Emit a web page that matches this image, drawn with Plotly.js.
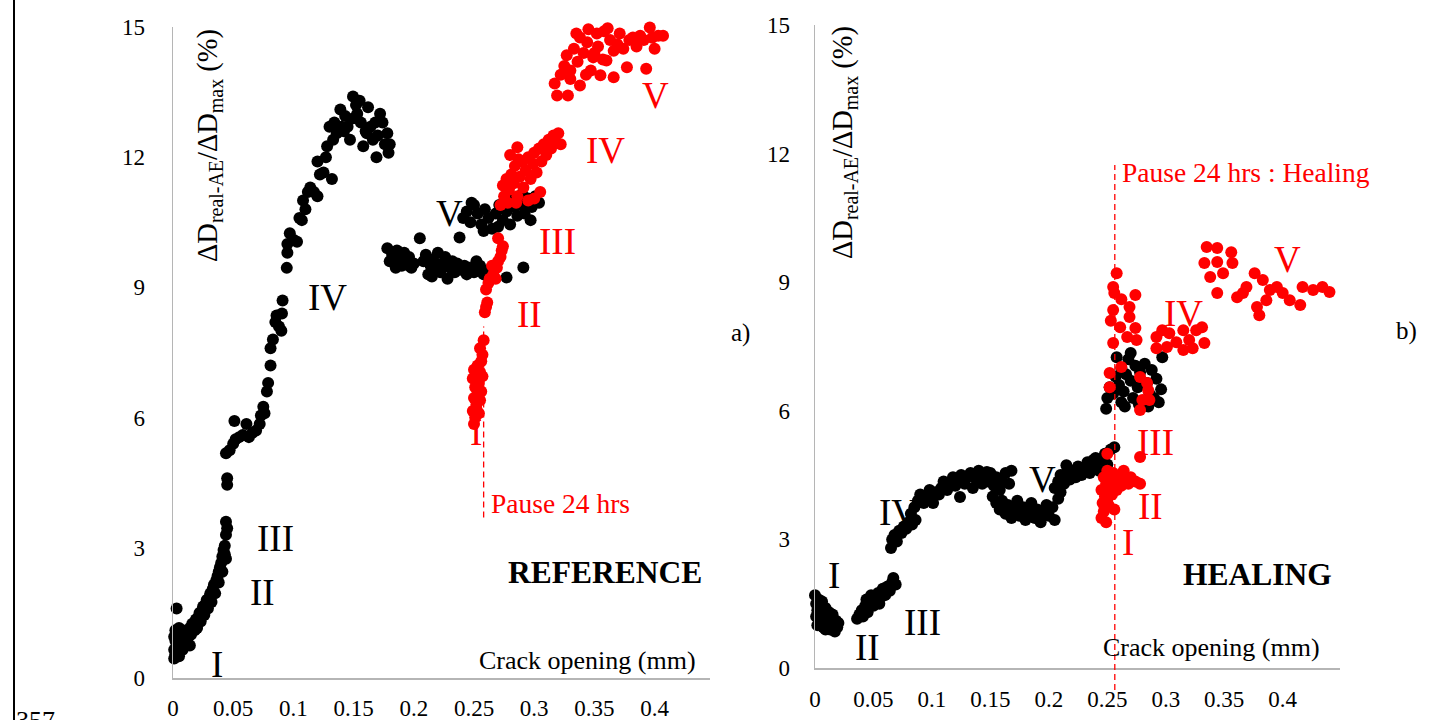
<!DOCTYPE html>
<html>
<head>
<meta charset="utf-8">
<script src="https://cdn.plot.ly/plotly-3.0.1.min.js"></script>
<style>html,body{margin:0;padding:0;background:#fff;}#chart{width:1431px;height:720px;}</style>
</head>
<body>
<div id="chart"></div>
<script>
// ---------- DATA ----------
// a) REFERENCE – first loading (black)
const refBlackX = [0.001,0.002,0.001,0.003,0.002,0.001,0.004,0.005,0.006,0.004,0.003,0.006,0.007,0.008,0.009,0.010,0.008,0.011,0.012,0.013,0.005,0.002,0.014,0.003,
0.014,0.016,0.018,0.019,0.021,0.022,0.024,0.025,0.027,0.028,0.030,0.031,0.033,0.034,0.036,0.037,0.038,0.039,0.040,0.041,0.042,0.043,0.044,0.043,0.044,0.045,0.044,
0.015,0.018,0.020,0.023,0.026,0.029,0.032,0.035,0.038,0.041,
0.045,0.045,0.044,0.047,0.050,0.052,0.051,0.055,0.058,0.061,0.063,0.066,0.069,0.072,0.073,0.075,0.076,0.078,0.079,0.081,0.081,0.083,0.085,0.086,0.088,0.090,0.0905,0.091,
0.0945,0.095,0.095,0.097,0.100,0.103,0.105,0.107,0.108,0.110,0.112,0.114,0.117,0.120,0.120,0.122,0.125,0.127,0.128,0.130,0.132,0.133,0.134,0.136,0.139,0.140,0.142,0.145,0.147,0.1495,0.152,0.153,0.155,0.156,0.158,0.160,0.161,0.162,0.164,0.166,0.169,0.170,0.172,0.174,0.176,0.178,0.179,0.180,0.168,0.150,0.143,
0.178,0.180,0.182,0.184,0.186,0.188,0.190,0.192,0.194,0.196,0.198,0.200,0.185,0.196,
0.208,0.210,0.212,0.214,0.216,0.218,0.220,0.222,0.224,0.226,0.228,0.230,0.232,0.234,0.236,0.238,0.240,0.242,0.244,0.246,0.250,0.252,0.255,0.258,0.262,0.265,0.277,0.291,0.215,0.205,
0.241,0.244,0.247,0.250,0.253,0.256,0.259,0.262,0.265,0.268,0.271,0.274,0.277,0.280,0.283,0.286,0.289,0.292,0.295,0.298,0.301,0.304,0.290,0.282,0.270,0.258,0.248,0.297];
const refBlackY = [0.45,0.55,0.65,0.75,0.85,0.95,0.60,0.50,0.70,0.90,1.05,0.95,0.80,0.65,0.90,1.00,1.10,0.85,1.05,0.95,1.15,1.10,0.75,1.60,
1.15,1.25,1.20,1.35,1.40,1.50,1.55,1.65,1.70,1.80,1.85,1.95,2.05,2.15,2.25,2.35,2.45,2.55,2.65,2.80,2.95,2.85,2.75,3.05,3.30,3.45,3.60,
1.00,1.10,1.15,1.30,1.45,1.60,1.75,1.95,2.20,2.45,
4.45,4.60,5.18,5.25,5.40,5.50,5.92,5.55,5.60,5.85,5.55,5.65,5.70,5.85,6.05,6.25,6.10,6.60,6.80,7.20,7.60,7.80,8.20,8.35,8.10,8.00,8.40,8.70,
9.45,9.80,10.00,10.25,10.10,10.05,10.60,10.55,11.00,10.80,11.20,11.30,11.20,11.10,11.90,11.60,11.65,12.00,12.25,12.70,11.50,12.40,12.80,12.55,13.10,12.70,12.60,12.70,12.40,13.40,13.20,13.00,13.30,12.80,12.25,12.60,12.55,13.15,12.70,12.40,12.00,12.50,13.00,12.80,12.30,12.55,12.10,12.30,12.80,12.90,12.95,
9.90,9.60,9.75,9.55,9.85,9.65,9.50,9.80,9.60,9.70,9.45,9.55,9.45,9.50,
9.60,9.75,9.30,9.50,9.65,9.45,9.80,9.35,9.55,9.70,9.20,9.45,9.60,9.35,9.55,10.15,9.40,9.50,9.30,9.45,9.35,9.60,9.50,9.30,9.40,9.25,9.23,9.46,9.25,10.13,
10.60,10.75,10.50,10.90,10.70,10.45,10.80,10.60,10.35,10.70,10.90,10.55,10.75,10.45,10.85,10.65,10.90,10.70,11.05,10.85,11.10,10.95,11.15,11.00,10.40,10.30,10.95,10.55];

// a) REFERENCE – after 24 h pause (red)
const refRedX = [0.250,0.251,0.249,0.252,0.250,0.253,0.251,0.254,0.252,0.255,0.253,0.256,0.257,0.255,0.258,0.254,0.256,0.249,0.257,0.252,0.255,0.250,
0.259,0.260,0.261,0.260,0.262,0.263,0.266,0.269,0.270,0.272,0.273,0.274,0.270,0.265,0.268,
0.272,0.275,0.274,0.277,0.279,0.281,0.283,0.284,0.286,0.288,0.290,0.291,0.293,0.295,0.297,0.299,0.300,0.302,0.304,0.306,0.308,0.310,0.312,0.314,0.316,0.318,0.320,0.322,0.285,0.295,0.305,0.280,0.287,0.278,0.286,0.300,
0.319,0.328,0.317,0.322,0.325,0.327,0.330,0.333,0.336,0.338,0.338,0.341,0.344,0.347,0.349,0.352,0.353,0.355,0.357,0.360,0.361,0.363,0.366,0.366,0.369,0.371,0.374,0.377,0.379,0.382,0.385,0.388,0.391,0.393,0.396,0.398,0.400,0.403,0.407,0.335,0.345,0.358,0.350,0.343,0.330];
const refRedY = [5.85,6.00,6.15,6.30,6.45,6.55,6.70,6.80,6.95,7.05,7.20,7.30,7.45,7.60,7.78,6.10,6.60,6.90,6.95,6.20,6.40,7.10,
8.43,8.55,8.65,8.95,9.10,9.20,9.30,9.45,9.60,9.70,9.85,9.95,10.13,9.50,9.20,
10.90,11.10,11.35,11.50,11.25,11.60,11.40,11.80,11.10,11.55,11.90,11.30,11.70,12.00,11.50,11.85,12.10,11.65,12.20,11.90,12.30,12.05,12.40,12.20,12.50,12.35,12.55,12.30,10.95,11.00,11.20,12.05,11.95,10.95,12.23,11.05,
13.42,13.42,13.70,13.90,14.10,14.35,14.00,14.50,14.20,14.76,13.65,14.40,14.65,14.00,14.30,14.85,14.55,13.89,14.25,14.23,14.97,14.70,13.84,14.45,14.60,14.85,14.50,14.07,14.70,14.76,14.55,14.80,14.70,14.04,14.99,14.75,14.50,14.80,14.80,14.85,14.95,14.90,14.40,13.90,13.80];

// b) HEALING – first loading (black)
const healBlackX = [0.000,0.001,0.002,0.001,0.003,0.004,0.005,0.004,0.006,0.007,0.008,0.007,0.009,0.010,0.011,0.012,0.013,0.014,0.015,0.016,0.017,0.018,0.019,0.020,0.002,0.009,
0.036,0.038,0.040,0.041,0.043,0.045,0.046,0.048,0.050,0.052,0.054,0.056,0.058,0.060,0.062,0.064,0.066,0.067,0.069,0.044,0.055,
0.065,0.066,0.068,0.070,0.072,0.074,0.076,0.078,0.080,0.083,0.086,
0.082,0.085,0.088,0.090,0.093,0.095,0.098,0.100,0.103,0.106,0.108,0.110,0.113,0.115,0.118,0.120,0.123,0.125,0.128,0.130,0.133,0.135,0.138,0.140,0.143,0.145,0.148,0.150,0.153,0.155,0.158,0.160,0.163,0.166,0.168,0.101,0.124,0.147,
0.152,0.155,0.158,0.160,0.163,0.165,0.168,0.170,0.173,0.175,0.178,0.180,0.183,0.185,0.188,0.190,0.193,0.195,0.198,0.200,0.203,0.205,0.208,0.210,
0.205,0.208,0.210,0.213,0.215,0.218,0.220,0.223,0.225,0.228,0.230,0.233,0.235,0.238,0.240,0.243,0.245,0.248,0.250,0.253,0.256,0.215,0.238,
0.249,0.250,0.252,0.255,0.257,0.260,0.262,0.264,0.266,0.268,0.270,0.272,0.274,0.276,0.278,0.280,0.282,0.284,0.286,0.288,0.290,0.292,0.294,0.296,0.265,0.258,0.262,0.270,0.277,0.285,0.297];
const healBlackY = [1.70,1.50,1.35,1.20,1.60,1.45,1.25,1.05,1.55,1.35,1.15,0.95,1.40,1.20,1.05,1.30,0.90,1.15,1.25,1.00,0.85,1.10,0.95,1.05,1.00,0.90,
1.15,1.25,1.35,1.20,1.45,1.30,1.55,1.70,1.45,1.60,1.75,1.65,1.85,1.70,1.90,1.80,2.00,2.10,1.95,1.60,1.50,
2.80,3.00,3.10,2.95,3.20,3.15,3.30,3.25,3.40,3.35,3.45,
3.60,3.75,3.90,4.05,3.85,4.00,4.15,3.95,4.10,4.05,4.20,4.35,4.15,4.30,4.45,4.25,4.40,4.50,4.30,4.45,4.55,4.20,4.40,4.60,4.30,4.50,4.35,4.55,4.25,4.45,4.15,4.35,4.55,4.30,4.60,3.85,3.99,4.57,
4.00,3.85,3.70,3.90,3.60,3.80,3.50,3.70,3.90,3.55,3.75,3.45,3.65,3.85,3.50,3.70,3.40,3.60,3.80,3.55,3.75,3.45,3.95,4.10,
4.20,4.35,4.50,4.30,4.55,4.40,4.60,4.45,4.70,4.50,4.65,4.80,4.55,4.75,4.90,4.60,4.85,5.00,4.75,5.10,5.15,4.73,4.85,
6.05,6.30,6.55,6.40,6.80,6.60,7.00,6.45,6.85,7.20,6.70,6.30,7.05,6.55,6.90,6.20,7.10,6.65,6.40,6.95,6.30,6.75,6.20,6.50,6.10,7.25,6.20,7.35,6.15,6.10,7.25];

// b) HEALING – after 24 h pause (red)
const healRedX = [0.245,0.247,0.249,0.246,0.248,0.245,0.249,0.247,0.250,0.252,0.254,0.253,0.255,0.257,0.258,0.260,0.262,0.264,0.266,0.268,0.270,0.274,0.278,0.251,0.250,0.256,0.278,0.250,
0.258,0.255,0.256,0.255,0.274,0.269,0.269,0.261,0.274,0.255,0.275,0.267,0.253,0.262,
0.252,0.252,0.262,0.278,0.284,0.280,0.278,0.286,0.285,
0.292,0.297,0.303,0.309,0.315,0.320,0.326,0.333,0.331,0.301,0.315,0.323,0.292,
0.335,0.344,0.356,0.333,0.344,0.357,0.338,0.349,0.344,
0.361,0.369,0.376,0.383,0.389,0.378,0.380,0.386,0.400,0.406,0.417,0.426,0.434,0.440,0.415,0.366,0.395];
const healRedY = [3.50,3.65,3.40,3.85,4.00,4.15,4.30,4.45,4.60,4.20,4.05,4.40,4.55,4.30,4.15,4.45,4.25,4.60,4.40,4.30,4.45,4.35,4.30,3.80,3.95,3.70,4.92,5.00,
9.21,8.89,8.75,8.35,8.70,8.42,8.19,7.95,7.93,7.58,7.65,7.72,8.10,8.60,
6.88,6.55,7.02,6.79,6.65,6.25,6.02,6.25,6.48,
7.46,7.88,7.81,7.60,7.88,7.65,7.88,7.58,7.95,7.49,7.42,7.46,7.72,
9.82,9.80,9.70,9.45,9.47,9.45,9.12,9.21,8.75,
8.65,8.89,9.21,9.05,8.82,8.42,8.23,8.58,8.75,8.58,8.89,8.82,8.89,8.77,8.47,8.75,8.89];

const xTicks = [0, 0.05, 0.1, 0.15, 0.2, 0.25, 0.3, 0.35, 0.4];
const xTickText = ['0', '0.05', '0.1', '0.15', '0.2', '0.25', '0.3', '0.35', '0.4'];
const yTicks = [0, 3, 6, 9, 12, 15];
const pauseX = [0.258, 0.2564];

// ---------- STYLE ----------
const serif = 'Liberation Serif, Times New Roman, serif';
const RED = '#ff0000';
const mk = (c) => ({color: c, size: 12, line: {width: 0}});

const traces = [
  {x: refBlackX, y: refBlackY, xaxis: 'x', yaxis: 'y', type: 'scatter', mode: 'markers', marker: mk('#000'), cliponaxis: false, hoverinfo: 'skip'},
  {x: refRedX, y: refRedY, xaxis: 'x', yaxis: 'y', type: 'scatter', mode: 'markers', marker: mk(RED), cliponaxis: false, hoverinfo: 'skip'},
  {x: healBlackX, y: healBlackY, xaxis: 'x2', yaxis: 'y2', type: 'scatter', mode: 'markers', marker: mk('#000'), cliponaxis: false, hoverinfo: 'skip'},
  {x: healRedX, y: healRedY, xaxis: 'x2', yaxis: 'y2', type: 'scatter', mode: 'markers', marker: mk(RED), cliponaxis: false, hoverinfo: 'skip'}
];

const axCommon = {
  showgrid: false, zeroline: false, showline: true, linecolor: '#b5b5b5', linewidth: 1.5,
  ticks: '', tickfont: {family: serif, size: 23, color: '#000'}, fixedrange: true
};
const W = 1431, H = 720;
const px = (p) => p / W, py = (p) => (H - p) / H;

function lbl(text, x, y, xr, yr, color, size, opts) {
  return Object.assign({text: text, x: x, y: y, xref: xr, yref: yr, showarrow: false,
    xanchor: 'center', yanchor: 'middle',
    font: {family: serif, size: size, color: color}}, opts || {});
}
const NUM = 37;

const annotations = [
  // a) labels
  lbl('I', 0.0365, 0.30, 'x', 'y', '#000', NUM),
  lbl('II', 0.074, 1.96, 'x', 'y', '#000', NUM),
  lbl('III', 0.0855, 3.22, 'x', 'y', '#000', NUM),
  lbl('IV', 0.128, 8.77, 'x', 'y', '#000', NUM),
  lbl('V', 0.230, 10.71, 'x', 'y', '#000', NUM),
  lbl('I', 0.2517, 5.66, 'x', 'y', RED, NUM),
  lbl('II', 0.2957, 8.38, 'x', 'y', RED, NUM),
  lbl('III', 0.319, 10.06, 'x', 'y', RED, NUM),
  lbl('IV', 0.3596, 12.16, 'x', 'y', RED, NUM),
  lbl('V', 0.401, 13.42, 'x', 'y', RED, NUM),
  lbl('Pause 24 hrs', 0.2625, 4.03, 'x', 'y', RED, 27.5, {xanchor: 'left'}),
  lbl('<b>REFERENCE</b>', 0.3588, 2.44, 'x', 'y', '#000', 31.5),
  lbl('Crack opening (mm)', 0.436, 0.41, 'x', 'y', '#000', 26, {xanchor: 'right'}),
  lbl('a)', px(740), py(333), 'paper', 'paper', '#000', 25),
  lbl('ΔD<sub>real-AE</sub>/ΔD<sub>max</sub> (%)', px(210), py(146), 'paper', 'paper', '#000', 28.5, {textangle: -90}),
  // b) labels
  lbl('I', 0.0162, 2.15, 'x2', 'y2', '#000', NUM),
  lbl('II', 0.0453, 0.47, 'x2', 'y2', '#000', NUM),
  lbl('III', 0.0923, 1.07, 'x2', 'y2', '#000', NUM),
  lbl('IV', 0.0718, 3.62, 'x2', 'y2', '#000', NUM),
  lbl('V', 0.1949, 4.39, 'x2', 'y2', '#000', NUM),
  lbl('I', 0.268, 2.92, 'x2', 'y2', RED, NUM),
  lbl('II', 0.287, 3.76, 'x2', 'y2', RED, NUM),
  lbl('III', 0.2915, 5.25, 'x2', 'y2', RED, NUM),
  lbl('IV', 0.315, 8.28, 'x2', 'y2', RED, NUM),
  lbl('V', 0.404, 9.52, 'x2', 'y2', RED, NUM),
  lbl('Pause 24 hrs : Healing', 0.2607, 11.55, 'x2', 'y2', RED, 27.5, {xanchor: 'left'}),
  lbl('<b>HEALING</b>', 0.3786, 2.17, 'x2', 'y2', '#000', 31.5),
  lbl('Crack opening (mm)', 0.4333, 0.47, 'x2', 'y2', '#000', 26, {xanchor: 'right'}),
  lbl('b)', px(1406), py(331), 'paper', 'paper', '#000', 25),
  lbl('ΔD<sub>real-AE</sub>/ΔD<sub>max</sub> (%)', px(845), py(143), 'paper', 'paper', '#000', 28.5, {textangle: -90}),
  // page number (cropped at the bottom edge, as in the reference)
  lbl('357', px(14), py(704), 'paper', 'paper', '#000', 26, {xanchor: 'left', yanchor: 'top'})
];

const shapes = [
  {type: 'line', xref: 'x', yref: 'y', x0: pauseX[0], x1: pauseX[0], y0: 3.7, y1: 8.1,
   line: {color: RED, width: 1.3, dash: '6px,4px'}},
  {type: 'line', xref: 'x2', yref: 'paper', x0: pauseX[1], x1: pauseX[1], y0: py(690), y1: py(165),
   line: {color: RED, width: 1.3, dash: '6px,4px'}},
  {type: 'line', xref: 'paper', yref: 'paper', x0: px(14), x1: px(14), y0: 0, y1: 1,
   line: {color: '#000', width: 2}}
];

const layout = {
  width: W, height: H, margin: {l: 0, r: 0, t: 0, b: 0},
  paper_bgcolor: '#fff', plot_bgcolor: 'rgba(0,0,0,0)', showlegend: false,
  font: {family: serif, color: '#000'},
  xaxis: Object.assign({}, axCommon, {domain: [px(173), px(710)], range: [0, 0.446], tickvals: xTicks, ticktext: xTickText, anchor: 'y', ticklabelstandoff: 9}),
  yaxis: Object.assign({}, axCommon, {domain: [py(678), py(27)], range: [0, 15], tickvals: yTicks, anchor: 'x', ticklabelstandoff: 22}),
  xaxis2: Object.assign({}, axCommon, {domain: [px(815), px(1340)], range: [0, 0.449], tickvals: xTicks, ticktext: xTickText, anchor: 'y2', ticklabelstandoff: 10}),
  yaxis2: Object.assign({}, axCommon, {domain: [py(668), py(25)], range: [0, 15], tickvals: yTicks, anchor: 'x2', ticklabelstandoff: 19}),
  annotations: annotations,
  shapes: shapes
};

Plotly.newPlot('chart', traces, layout, {displayModeBar: false, staticPlot: true});
</script>
</body>
</html>
